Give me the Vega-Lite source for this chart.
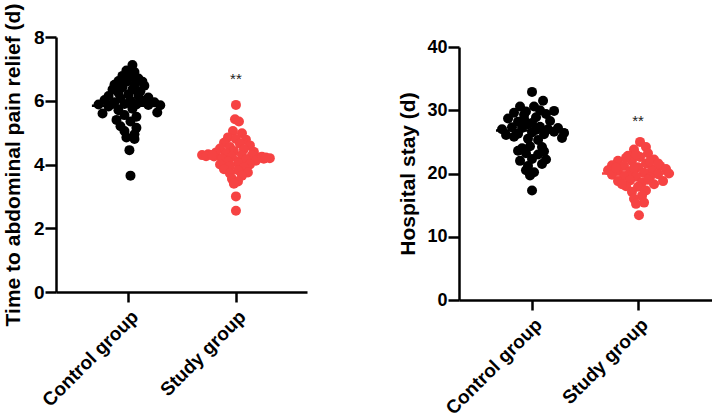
{
  "$schema": "https://vega.github.io/schema/vega-lite/v6.json",
  "background": "white",
  "padding": {"left": 2, "top": 3, "right": 0, "bottom": 0},
  "config": {
    "view": {"stroke": null},
    "axis": {
      "domainColor": "#000000", "domainWidth": 2.5,
      "tickColor": "#000000", "tickWidth": 2.5, "tickSize": 11,
      "labelFont": "Liberation Sans", "labelFontWeight": "bold", "labelFontSize": 19, "labelColor": "#000000", "labelPadding": 1,
      "titleFont": "Liberation Sans", "titleFontWeight": "bold", "titleFontSize": 21, "titleColor": "#000000",
      "grid": false
    }
  },
  "datasets": {
    "pain": [
      {"group": "Control group", "pos": 1.037, "value": 7.12},
      {"group": "Control group", "pos": 0.981, "value": 6.95},
      {"group": "Control group", "pos": 1.056, "value": 6.9},
      {"group": "Control group", "pos": 0.944, "value": 6.78},
      {"group": "Control group", "pos": 1.019, "value": 6.75},
      {"group": "Control group", "pos": 1.093, "value": 6.7},
      {"group": "Control group", "pos": 0.907, "value": 6.62},
      {"group": "Control group", "pos": 0.981, "value": 6.6},
      {"group": "Control group", "pos": 1.13, "value": 6.6},
      {"group": "Control group", "pos": 0.87, "value": 6.5},
      {"group": "Control group", "pos": 1.056, "value": 6.5},
      {"group": "Control group", "pos": 1.148, "value": 6.47},
      {"group": "Control group", "pos": 0.944, "value": 6.42},
      {"group": "Control group", "pos": 0.852, "value": 6.35},
      {"group": "Control group", "pos": 1.037, "value": 6.35},
      {"group": "Control group", "pos": 1.111, "value": 6.3},
      {"group": "Control group", "pos": 0.907, "value": 6.25},
      {"group": "Control group", "pos": 1.0, "value": 6.2},
      {"group": "Control group", "pos": 0.815, "value": 6.15},
      {"group": "Control group", "pos": 1.093, "value": 6.15},
      {"group": "Control group", "pos": 1.185, "value": 6.1},
      {"group": "Control group", "pos": 0.926, "value": 6.08},
      {"group": "Control group", "pos": 0.778, "value": 6.02},
      {"group": "Control group", "pos": 1.019, "value": 6.0},
      {"group": "Control group", "pos": 1.13, "value": 6.0},
      {"group": "Control group", "pos": 1.241, "value": 5.95},
      {"group": "Control group", "pos": 0.87, "value": 5.95},
      {"group": "Control group", "pos": 0.722, "value": 5.88},
      {"group": "Control group", "pos": 0.963, "value": 5.9},
      {"group": "Control group", "pos": 1.074, "value": 5.88},
      {"group": "Control group", "pos": 1.185, "value": 5.87},
      {"group": "Control group", "pos": 1.296, "value": 5.86},
      {"group": "Control group", "pos": 0.815, "value": 5.82},
      {"group": "Control group", "pos": 0.759, "value": 5.6},
      {"group": "Control group", "pos": 1.268, "value": 5.63},
      {"group": "Control group", "pos": 0.907, "value": 5.7},
      {"group": "Control group", "pos": 1.037, "value": 5.75},
      {"group": "Control group", "pos": 0.963, "value": 5.55},
      {"group": "Control group", "pos": 1.074, "value": 5.5},
      {"group": "Control group", "pos": 0.889, "value": 5.4},
      {"group": "Control group", "pos": 1.019, "value": 5.35},
      {"group": "Control group", "pos": 0.926, "value": 5.2},
      {"group": "Control group", "pos": 1.074, "value": 5.15},
      {"group": "Control group", "pos": 0.963, "value": 5.05},
      {"group": "Control group", "pos": 1.056, "value": 4.95},
      {"group": "Control group", "pos": 0.981, "value": 4.85},
      {"group": "Control group", "pos": 1.056, "value": 4.8},
      {"group": "Control group", "pos": 1.009, "value": 4.45},
      {"group": "Control group", "pos": 1.019, "value": 3.65},
      {"group": "Control group", "pos": 0.852, "value": 5.9},
      {"group": "Study group", "pos": 2.0, "value": 5.87},
      {"group": "Study group", "pos": 1.991, "value": 5.42},
      {"group": "Study group", "pos": 2.028, "value": 5.35},
      {"group": "Study group", "pos": 1.972, "value": 5.05},
      {"group": "Study group", "pos": 2.056, "value": 4.98},
      {"group": "Study group", "pos": 1.926, "value": 4.85},
      {"group": "Study group", "pos": 2.093, "value": 4.78},
      {"group": "Study group", "pos": 2.0, "value": 4.8},
      {"group": "Study group", "pos": 1.889, "value": 4.68},
      {"group": "Study group", "pos": 2.037, "value": 4.65},
      {"group": "Study group", "pos": 2.13, "value": 4.6},
      {"group": "Study group", "pos": 1.944, "value": 4.55},
      {"group": "Study group", "pos": 1.852, "value": 4.5},
      {"group": "Study group", "pos": 2.074, "value": 4.48},
      {"group": "Study group", "pos": 1.981, "value": 4.42},
      {"group": "Study group", "pos": 2.167, "value": 4.4},
      {"group": "Study group", "pos": 1.815, "value": 4.38},
      {"group": "Study group", "pos": 1.907, "value": 4.35},
      {"group": "Study group", "pos": 1.741, "value": 4.32},
      {"group": "Study group", "pos": 1.685, "value": 4.3},
      {"group": "Study group", "pos": 2.056, "value": 4.3},
      {"group": "Study group", "pos": 2.148, "value": 4.28},
      {"group": "Study group", "pos": 1.796, "value": 4.25},
      {"group": "Study group", "pos": 1.963, "value": 4.25},
      {"group": "Study group", "pos": 2.222, "value": 4.22},
      {"group": "Study group", "pos": 2.315, "value": 4.2},
      {"group": "Study group", "pos": 2.259, "value": 4.18},
      {"group": "Study group", "pos": 1.87, "value": 4.18},
      {"group": "Study group", "pos": 2.093, "value": 4.15},
      {"group": "Study group", "pos": 2.185, "value": 4.12},
      {"group": "Study group", "pos": 1.926, "value": 4.1},
      {"group": "Study group", "pos": 2.019, "value": 4.05},
      {"group": "Study group", "pos": 1.852, "value": 4.0},
      {"group": "Study group", "pos": 2.13, "value": 4.0},
      {"group": "Study group", "pos": 1.944, "value": 3.95},
      {"group": "Study group", "pos": 2.074, "value": 3.9},
      {"group": "Study group", "pos": 1.889, "value": 3.85},
      {"group": "Study group", "pos": 2.019, "value": 3.82},
      {"group": "Study group", "pos": 2.111, "value": 3.75},
      {"group": "Study group", "pos": 1.944, "value": 3.72},
      {"group": "Study group", "pos": 2.056, "value": 3.65},
      {"group": "Study group", "pos": 1.963, "value": 3.55},
      {"group": "Study group", "pos": 2.019, "value": 3.47},
      {"group": "Study group", "pos": 1.981, "value": 3.4},
      {"group": "Study group", "pos": 2.0, "value": 3.0},
      {"group": "Study group", "pos": 2.0, "value": 2.55},
      {"group": "Study group", "pos": 1.722, "value": 4.26},
      {"group": "Study group", "pos": 2.241, "value": 4.24},
      {"group": "Study group", "pos": 1.778, "value": 4.3},
      {"group": "Study group", "pos": 2.278, "value": 4.22}
    ],
    "painMeans": [
      {"group": "Study group", "pos": 1.66, "pos2": 2.34, "value": 4.2},
      {"group": "Control group", "pos": 0.66, "pos2": 1.34, "value": 5.84}
    ],
    "painSig": [{"pos": 2.0, "value": 6.52, "label": "**"}],
    "stay": [
      {"group": "Control group", "pos": 1.0, "value": 32.9},
      {"group": "Control group", "pos": 1.104, "value": 31.5},
      {"group": "Control group", "pos": 0.887, "value": 30.6},
      {"group": "Control group", "pos": 1.019, "value": 30.6},
      {"group": "Control group", "pos": 0.83, "value": 29.6},
      {"group": "Control group", "pos": 0.943, "value": 29.8},
      {"group": "Control group", "pos": 1.075, "value": 30.0},
      {"group": "Control group", "pos": 1.208, "value": 29.9},
      {"group": "Control group", "pos": 1.132, "value": 29.4},
      {"group": "Control group", "pos": 0.774, "value": 28.7},
      {"group": "Control group", "pos": 0.925, "value": 28.6},
      {"group": "Control group", "pos": 1.038, "value": 28.9},
      {"group": "Control group", "pos": 0.868, "value": 28.2},
      {"group": "Control group", "pos": 1.17, "value": 28.3},
      {"group": "Control group", "pos": 1.208, "value": 26.6},
      {"group": "Control group", "pos": 1.0, "value": 28.0},
      {"group": "Control group", "pos": 0.717, "value": 27.0},
      {"group": "Control group", "pos": 0.811, "value": 27.3},
      {"group": "Control group", "pos": 0.906, "value": 27.2},
      {"group": "Control group", "pos": 1.075, "value": 27.4},
      {"group": "Control group", "pos": 1.151, "value": 27.0},
      {"group": "Control group", "pos": 0.755, "value": 26.1},
      {"group": "Control group", "pos": 0.868, "value": 26.3},
      {"group": "Control group", "pos": 1.0, "value": 26.5},
      {"group": "Control group", "pos": 1.113, "value": 26.2},
      {"group": "Control group", "pos": 1.283, "value": 25.6},
      {"group": "Control group", "pos": 0.962, "value": 25.5},
      {"group": "Control group", "pos": 1.057, "value": 25.3},
      {"group": "Control group", "pos": 0.981, "value": 24.3},
      {"group": "Control group", "pos": 0.906, "value": 24.0},
      {"group": "Control group", "pos": 1.094, "value": 24.2},
      {"group": "Control group", "pos": 0.943, "value": 23.2},
      {"group": "Control group", "pos": 1.057, "value": 23.0},
      {"group": "Control group", "pos": 0.887, "value": 22.0},
      {"group": "Control group", "pos": 1.0, "value": 22.3},
      {"group": "Control group", "pos": 1.094, "value": 21.5},
      {"group": "Control group", "pos": 0.962, "value": 21.2},
      {"group": "Control group", "pos": 0.943, "value": 20.5},
      {"group": "Control group", "pos": 1.019, "value": 20.2},
      {"group": "Control group", "pos": 0.981, "value": 19.7},
      {"group": "Control group", "pos": 1.0, "value": 17.3},
      {"group": "Control group", "pos": 0.962, "value": 27.8},
      {"group": "Control group", "pos": 1.038, "value": 26.9},
      {"group": "Control group", "pos": 0.83, "value": 25.8},
      {"group": "Control group", "pos": 1.245, "value": 27.2},
      {"group": "Control group", "pos": 0.925, "value": 29.3},
      {"group": "Control group", "pos": 1.113, "value": 23.5},
      {"group": "Control group", "pos": 1.132, "value": 22.2},
      {"group": "Control group", "pos": 0.868, "value": 23.6},
      {"group": "Control group", "pos": 1.302, "value": 26.4},
      {"group": "Study group", "pos": 2.019, "value": 25.0},
      {"group": "Study group", "pos": 2.075, "value": 24.2},
      {"group": "Study group", "pos": 1.962, "value": 23.8},
      {"group": "Study group", "pos": 2.094, "value": 23.2},
      {"group": "Study group", "pos": 1.906, "value": 22.8},
      {"group": "Study group", "pos": 2.019, "value": 22.6},
      {"group": "Study group", "pos": 2.151, "value": 22.2},
      {"group": "Study group", "pos": 1.811, "value": 22.0},
      {"group": "Study group", "pos": 1.943, "value": 22.0},
      {"group": "Study group", "pos": 2.075, "value": 21.6},
      {"group": "Study group", "pos": 1.755, "value": 21.3},
      {"group": "Study group", "pos": 2.208, "value": 21.2},
      {"group": "Study group", "pos": 1.868, "value": 21.2},
      {"group": "Study group", "pos": 2.0, "value": 21.0},
      {"group": "Study group", "pos": 2.264, "value": 20.7},
      {"group": "Study group", "pos": 1.717, "value": 20.5},
      {"group": "Study group", "pos": 2.132, "value": 20.6},
      {"group": "Study group", "pos": 1.811, "value": 20.4},
      {"group": "Study group", "pos": 1.925, "value": 20.3},
      {"group": "Study group", "pos": 2.292, "value": 20.0},
      {"group": "Study group", "pos": 2.057, "value": 20.1},
      {"group": "Study group", "pos": 2.189, "value": 19.9},
      {"group": "Study group", "pos": 1.755, "value": 19.8},
      {"group": "Study group", "pos": 1.868, "value": 19.6},
      {"group": "Study group", "pos": 1.981, "value": 19.5},
      {"group": "Study group", "pos": 2.113, "value": 19.4},
      {"group": "Study group", "pos": 2.236, "value": 18.8},
      {"group": "Study group", "pos": 1.811, "value": 18.8},
      {"group": "Study group", "pos": 1.925, "value": 18.9},
      {"group": "Study group", "pos": 2.038, "value": 18.6},
      {"group": "Study group", "pos": 2.151, "value": 18.3},
      {"group": "Study group", "pos": 1.887, "value": 18.0},
      {"group": "Study group", "pos": 2.0, "value": 17.9},
      {"group": "Study group", "pos": 2.075, "value": 17.3},
      {"group": "Study group", "pos": 1.943, "value": 17.1},
      {"group": "Study group", "pos": 2.038, "value": 16.5},
      {"group": "Study group", "pos": 1.962, "value": 16.0},
      {"group": "Study group", "pos": 2.057, "value": 15.4},
      {"group": "Study group", "pos": 1.981, "value": 15.2},
      {"group": "Study group", "pos": 2.009, "value": 13.4},
      {"group": "Study group", "pos": 1.962, "value": 20.9},
      {"group": "Study group", "pos": 2.113, "value": 21.9},
      {"group": "Study group", "pos": 1.887, "value": 22.5},
      {"group": "Study group", "pos": 2.189, "value": 21.6},
      {"group": "Study group", "pos": 1.981, "value": 23.0},
      {"group": "Study group", "pos": 1.792, "value": 20.9},
      {"group": "Study group", "pos": 2.094, "value": 19.0},
      {"group": "Study group", "pos": 1.849, "value": 18.3}
    ],
    "stayMeans": [
      {"group": "Study group", "pos": 1.66, "pos2": 2.34, "value": 20.0},
      {"group": "Control group", "pos": 0.66, "pos2": 1.34, "value": 26.8}
    ],
    "staySig": [{"pos": 2.0, "value": 27.46, "label": "**"}]
  },
  "spacing": 90,
  "hconcat": [
    {
      "width": 251,
      "height": 255,
      "encoding": {
        "x": {"field": "pos", "type": "quantitative",
              "scale": {"domain": [0.326, 2.661], "nice": false, "zero": false},
              "axis": {"values": [1, 2], "title": null, "tickSize": 10, "labelAngle": -45, "labelPadding": 5,
                       "labelExpr": "datum.value == 1 ? 'Control group' : 'Study group'"}},
        "y": {"field": "value", "type": "quantitative",
              "scale": {"domain": [0, 8], "nice": false},
              "axis": {"values": [0, 2, 4, 6, 8], "title": "Time to abdominal pain relief (d)", "titlePadding": 10}}
      },
      "layer": [
        {
          "data": {"name": "painMeans"},
          "transform": [{"filter": "datum.group == 'Study group'"}],
          "mark": {"type": "rule", "strokeWidth": 2.5, "color": "#f64343"},
          "encoding": {"x2": {"field": "pos2"}}
        },
        {
          "data": {"name": "pain"},
          "mark": {"type": "circle", "size": 100, "opacity": 1},
          "encoding": {
            "color": {"field": "group", "type": "nominal",
                      "scale": {"domain": ["Control group", "Study group"], "range": ["#000000", "#f64343"]},
                      "legend": null}
          }
        },
        {
          "data": {"name": "painMeans"},
          "transform": [{"filter": "datum.group == 'Control group'"}],
          "mark": {"type": "rule", "strokeWidth": 2.5, "color": "#000000"},
          "encoding": {"x2": {"field": "pos2"}}
        },
        {
          "data": {"name": "painSig"},
          "mark": {"type": "text", "font": "Liberation Sans", "fontSize": 15, "color": "#222222", "baseline": "alphabetic"},
          "encoding": {"text": {"field": "label"}}
        }
      ]
    },
    {
      "spacing": 0,
      "vconcat": [
        {
          "width": 1,
          "height": 1,
          "data": {"values": []},
          "mark": "point"
        },
        {
          "width": 253,
          "height": 253,
          "encoding": {
            "x": {"field": "pos", "type": "quantitative",
                  "scale": {"domain": [0.311, 2.698], "nice": false, "zero": false},
                  "axis": {"values": [1, 2], "title": null, "tickSize": 10, "labelAngle": -45, "labelPadding": 5,
                           "labelExpr": "datum.value == 1 ? 'Control group' : 'Study group'"}},
            "y": {"field": "value", "type": "quantitative",
                  "scale": {"domain": [0, 40], "nice": false},
                  "axis": {"values": [0, 10, 20, 30, 40], "title": "Hospital stay (d)", "titlePadding": 8, "labelFontSize": 18}}
          },
          "layer": [
            {
              "data": {"name": "stayMeans"},
              "transform": [{"filter": "datum.group == 'Study group'"}],
              "mark": {"type": "rule", "strokeWidth": 2.5, "color": "#f64343"},
              "encoding": {"x2": {"field": "pos2"}}
            },
            {
              "data": {"name": "stay"},
              "mark": {"type": "circle", "size": 100, "opacity": 1},
              "encoding": {
                "color": {"field": "group", "type": "nominal",
                          "scale": {"domain": ["Control group", "Study group"], "range": ["#000000", "#f64343"]},
                          "legend": null}
              }
            },
            {
              "data": {"name": "stayMeans"},
              "transform": [{"filter": "datum.group == 'Control group'"}],
              "mark": {"type": "rule", "strokeWidth": 2.5, "color": "#000000"},
              "encoding": {"x2": {"field": "pos2"}}
            },
            {
              "data": {"name": "staySig"},
              "mark": {"type": "text", "font": "Liberation Sans", "fontSize": 15, "color": "#222222", "baseline": "alphabetic"},
              "encoding": {"text": {"field": "label"}}
            }
          ]
        }
      ]
    }
  ]
}
